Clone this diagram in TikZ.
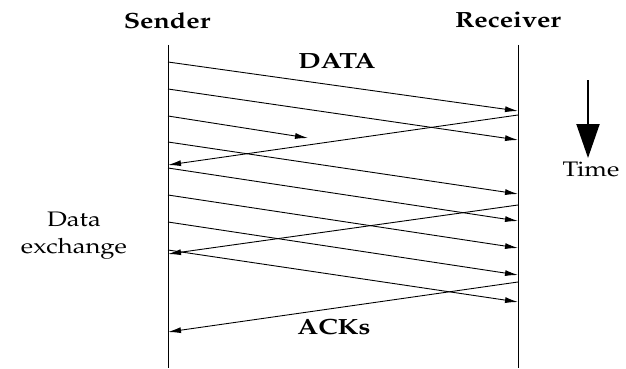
\documentclass[tikz,border=0pt]{standalone}
\usepackage[T1]{fontenc}
\usepackage{mathpazo}
\usetikzlibrary{arrows.meta}
\newcommand{\widetext}[1]{\scalebox{1.22}[1]{#1}}
\tikzset{
  lifeline/.style={line width=1pt},
  msg/.style={line width=0.9pt,-{Latex[length=13pt,width=6pt]}},
  hdr/.style={font=\fontsize{22}{26}\selectfont\bfseries, inner sep=0pt},
  lbl/.style={font=\fontsize{21}{27}\selectfont, align=center, inner sep=0pt},
  timearrow/.style={line width=2pt,-{Triangle[length=34pt,width=23pt]}}
}
\begin{document}
\begin{tikzpicture}[x=1pt,y=-1pt]
\useasboundingbox (0,0) rectangle (626,369);
% lifelines
\coordinate (stop) at (168,45);
\coordinate (sbot) at (168,368);
\coordinate (rtop) at (518,45);
\coordinate (rbot) at (518,368);
\draw[lifeline] (stop) -- (sbot);
\draw[lifeline] (rtop) -- (rbot);
% labels
\node[hdr] (sender) at (167,21) {\widetext{Sender}};
\node[hdr] (receiver) at (508,20) {\widetext{Receiver}};
\node[hdr] (data) at (337,61) {\widetext{DATA}};
\node[hdr] (acks) at (334,327) {\widetext{ACKs}};
\node[lbl] (exch) at (74,236) {\widetext{Data}\\\widetext{exchange}};
% time axis
\coordinate (t0) at (588,80);
\coordinate (t1) at (588,158);
\draw[timearrow] (t0) -- (t1);
\node[lbl] (time) at (591,169) {\widetext{Time}};
% data segments
\foreach \i/\a/\b in {1/62/111, 2/89/140, 4/142/194, 5/168/221, 6/195/248, 7/222/275, 8/250/302}{
  \coordinate (d\i s) at (168,\a);
  \coordinate (d\i r) at (518,\b);
  \draw[msg] (d\i s) -- (d\i r);
}
% lost segment
\coordinate (d3s) at (168,116);
\coordinate (d3x) at (308,138);
\draw[msg] (d3s) -- (d3x);
% acknowledgements
\foreach \i/\a/\b in {1/115/165, 2/205/254, 3/282/332}{
  \coordinate (a\i r) at (518,\a);
  \coordinate (a\i s) at (168,\b);
  \draw[msg] (a\i r) -- (a\i s);
}
\end{tikzpicture}
\end{document}
